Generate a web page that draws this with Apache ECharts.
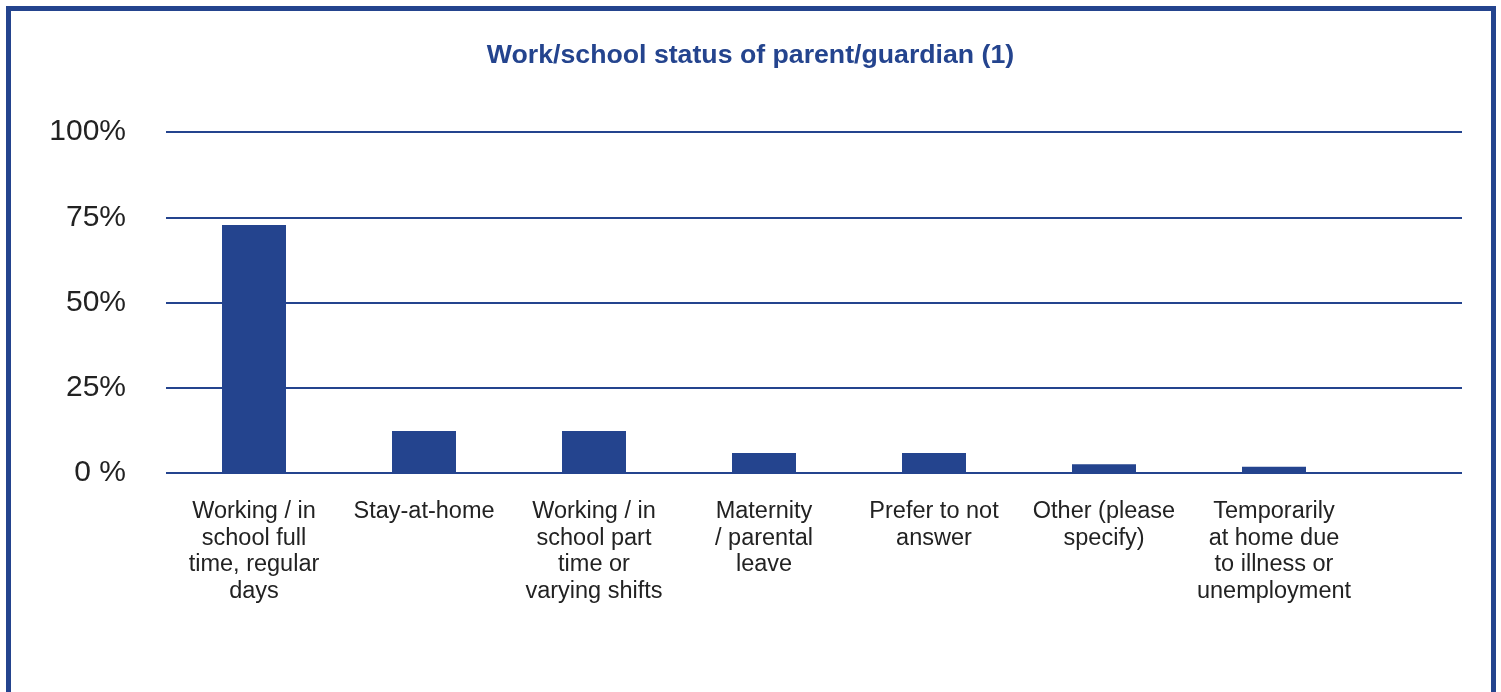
<!DOCTYPE html>
<html>
<head>
<meta charset="utf-8">
<script src="https://cdn.jsdelivr.net/npm/echarts@6/dist/echarts.min.js"></script>
<style>
  html, body { margin: 0; padding: 0; background: #fff; }
  #main { width: 1501px; height: 692px; }
</style>
</head>
<body>
<div id="main"></div>
<script>
var categories = [
    'Working / in\nschool full\ntime, regular\ndays',
    'Stay-at-home',
    'Working / in\nschool part\ntime or\nvarying shifts',
    'Maternity\n/ parental\nleave',
    'Prefer to not\nanswer',
    'Other (please\nspecify)',
    'Temporarily\nat home due\nto illness or\nunemployment'
];
var values = [72.7, 12.3, 12.3, 5.9, 5.9, 2.6, 1.8];
var yTickValues = [0, 25, 50, 75, 100];
var yTickLabels = ['0 %', '25%', '50%', '75%', '100%'];

var blue = '#24448e';
var chartDom = document.getElementById('main');
var myChart = echarts.init(chartDom);
var option;

option = {
    animation: false,
    title: {
        text: 'Work/school status of parent/guardian (1)',
        left: 'center',
        top: 37,
        textStyle: {
            color: blue,
            fontFamily: 'Liberation Sans',
            fontWeight: 'bold',
            fontSize: 26.7
        }
    },
    graphic: [{
        type: 'rect',
        shape: { x: 8.5, y: 8.5, width: 1485, height: 720 },
        style: { fill: 'none', stroke: blue, lineWidth: 5 },
        silent: true
    }],
    grid: [
        { left: 169, right: 142, top: 132, bottom: 219 },
        { left: 166, right: 39, top: 132, bottom: 219 }
    ],
    xAxis: [
        {
            type: 'category',
            gridIndex: 0,
            data: categories,
            axisLine: { show: false },
            axisTick: { show: false },
            axisLabel: {
                interval: 0,
                margin: 25,
                color: '#222',
                fontFamily: 'Liberation Sans',
                fontSize: 23.5,
                lineHeight: 26.7
            }
        },
        {
            type: 'value',
            gridIndex: 1,
            show: false
        }
    ],
    yAxis: [
        {
            type: 'value',
            gridIndex: 0,
            min: 0,
            max: 100,
            show: false
        },
        {
            type: 'value',
            gridIndex: 1,
            min: 0,
            max: 100,
            interval: 25,
            axisLine: { show: false },
            axisTick: { show: false },
            splitLine: { lineStyle: { color: blue, width: 2 } },
            axisLabel: {
                margin: 40,
                color: '#222',
                fontFamily: 'Liberation Sans',
                fontSize: 30,
                formatter: function (v) {
                    return yTickLabels[yTickValues.indexOf(v)];
                }
            }
        }
    ],
    series: [
        {
            type: 'bar',
            xAxisIndex: 0,
            yAxisIndex: 0,
            barWidth: 64,
            itemStyle: { color: blue },
            data: values
        }
    ]
};

option && myChart.setOption(option);
</script>
</body>
</html>
